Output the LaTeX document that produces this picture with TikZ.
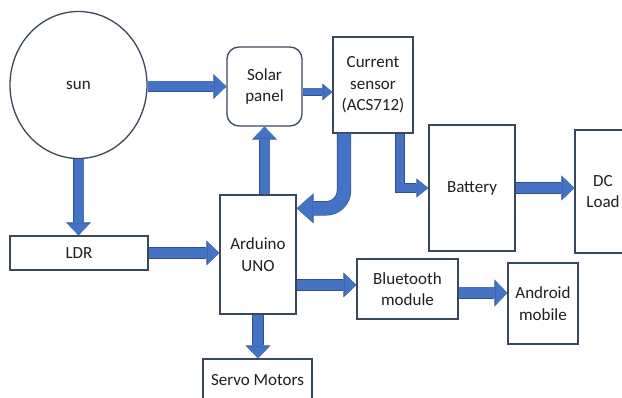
\documentclass[tikz,border=0pt]{standalone}
\usepackage{fontspec}
\setmainfont{Carlito}
\usetikzlibrary{arrows.meta,shapes.geometric,calc}
\definecolor{afill}{RGB}{68,114,196}
\definecolor{adark}{RGB}{47,82,143}
\definecolor{bline}{RGB}{58,72,92}
\begin{document}
\begin{tikzpicture}[x=1pt,y=-1pt,
  box/.style={draw=bline, line width=1.3pt, fill=white, align=center,
    font=\fontsize{17}{21.5}\selectfont, text=black!88, inner sep=0pt},
  bigarrow/.style={line width=10pt, draw=afill, -{Triangle[length=12pt,width=23pt,line width=0pt]},
    preaction={draw=adark, line width=11.4pt, -{Triangle[length=13pt,width=25pt,line width=0pt]}}},
  wideend/.style={line width=11pt, draw=afill, -{Triangle[length=12pt,width=25pt,line width=0pt]},
    preaction={draw=adark, line width=12.4pt, -{Triangle[length=13pt,width=27pt,line width=0pt]}}},
  thinarrow/.style={line width=7pt, draw=afill, -{Triangle[length=9pt,width=15pt,line width=0pt]},
    preaction={draw=adark, line width=8.2pt, -{Triangle[length=10pt,width=17pt,line width=0pt]}}},
  midarrow/.style={line width=8pt, draw=afill, -{Triangle[length=11pt,width=17pt,line width=0pt]},
    preaction={draw=adark, line width=9.2pt, -{Triangle[length=12pt,width=19pt,line width=0pt]}}},
  curvearrow/.style={line width=13pt, draw=afill, rounded corners=18pt, -{Triangle[length=16pt,width=28pt,line width=0pt]},
    preaction={draw=adark, line width=14.4pt, -{Triangle[length=17pt,width=30pt,line width=0pt]}}}
]
\clip (0,0) rectangle (622,398);
\fill[white] (0,0) rectangle (622,398);

% nodes
\node[box, ellipse, minimum width=137pt, minimum height=147pt] (sun) at (78.5,85) {sun};
\node[box, minimum width=138pt, minimum height=34pt] (ldr) at (79,253) {LDR};
\node[box, rounded corners=12pt, minimum width=75pt, minimum height=79pt] (solar) at (264.5,86.5) {Solar\\panel};
\node[box, minimum width=80pt, minimum height=96pt] (cur) at (373,85) {Current\\sensor\\(ACS712)};
\node[box, minimum width=86pt, minimum height=126pt] (bat) at (472,188) {Battery};
\node[box, minimum width=56pt, minimum height=123pt] (dc) at (603,191.5) {DC\\Load};
\node[box, minimum width=76pt, minimum height=119pt] (ard) at (258,254.5) {Arduino\\UNO};
\node[box, minimum width=101pt, minimum height=60pt] (bt) at (407.5,289) {Bluetooth\\module};
\node[box, minimum width=70pt, minimum height=81pt] (andr) at (543,303.5) {Android\\mobile};
\node[box, minimum width=109pt, minimum height=42pt] (servo) at (257.5,380) {Servo Motors};

% connectors
\draw[bigarrow] (sun.east |- solar.west) -- (solar.west);
\draw[bigarrow] (sun.south) -- (sun.south |- ldr.north);
\draw[bigarrow] (ldr.east) -- (ard.west |- ldr.east);
\draw[bigarrow] (ard.north -| solar.south) -- (solar.south);
\draw[thinarrow] ($(solar.east)+(0,5.5)$) -- ($(solar.east -| cur.west)+(0,5.5)$);
\coordinate (curA) at ($(cur.south)+(-29,0)$);
\coordinate (ardA) at ($(ard.north east)+(0,14)$);
\draw[curvearrow] (curA) -- (curA |- ardA) -- (ardA);
\coordinate (curB) at ($(cur.south)+(27,0)$);
\draw[midarrow] (curB) |- (bat.west);
\draw[bigarrow] (bat.east) -- (dc.west |- bat.east);
\draw[bigarrow] ($(ard.east |- bt.west)+(0,-4)$) -- ($(bt.west)+(0,-4)$);
\draw[wideend] ($(bt.east)+(0,4)$) -- ($(andr.west |- bt.east)+(0,4)$);
\draw[bigarrow] (ard.south) -- (ard.south |- servo.north);
\end{tikzpicture}
\end{document}
